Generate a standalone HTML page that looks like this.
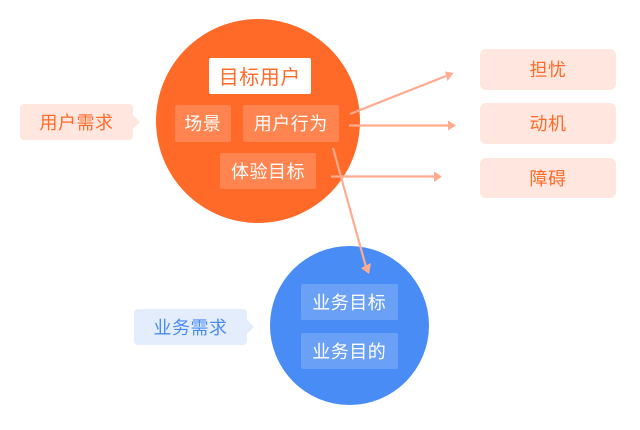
<!DOCTYPE html>
<html lang="zh">
<head>
<meta charset="utf-8">
<style>
html,body{margin:0;padding:0;background:#fff}
#c{position:relative;width:640px;height:430px;overflow:hidden;background:#fff;font-family:"Liberation Sans","Noto Sans CJK SC",sans-serif}
.b{position:absolute;display:flex;align-items:center;justify-content:center;font-size:18px;letter-spacing:.5px;white-space:nowrap;border-radius:2px;box-sizing:border-box}
.circle{position:absolute;border-radius:50%}
.o{background:#ffe7df;color:#ff6a29;border-radius:4px}
.w{background:rgba(255,255,255,.18);color:#fff}
svg{position:absolute;left:0;top:0}
</style>
</head>
<body>
<div id="c">
<div class="circle" style="left:156px;top:19px;width:204px;height:204px;background:#ff6a29"></div>
<div class="circle" style="left:270px;top:246px;width:159px;height:159px;background:#4a8cf5"></div>

<svg width="640" height="430" viewBox="0 0 640 430">
<polygon points="133,115 140,122 133,129" fill="#ffe7df"/>
<polygon points="247,320 254,327 247,334" fill="#e3edfc"/>
</svg>

<div class="b" style="left:208.5px;top:57.5px;width:102.5px;height:36.5px;background:#fff;color:#ff6a29;font-size:20px">目标用户</div>
<div class="b w" style="left:174.5px;top:105px;width:56.5px;height:36.5px">场景</div>
<div class="b w" style="left:242.5px;top:105px;width:96.5px;height:36.5px">用户行为</div>
<div class="b w" style="left:220px;top:153px;width:96px;height:36px">体验目标</div>
<div class="b o" style="left:20px;top:104px;width:113px;height:36px">用户需求</div>
<div class="b" style="left:134px;top:308.5px;width:113px;height:36.5px;background:#e3edfc;color:#4a8cf5;border-radius:4px">业务需求</div>
<div class="b w" style="left:300.5px;top:283.5px;width:97.5px;height:36.5px">业务目标</div>
<div class="b w" style="left:300.5px;top:332.5px;width:97.5px;height:36.5px">业务目的</div>
<div class="b o" style="left:480px;top:48.5px;width:136px;height:41px;border-radius:6px">担忧</div>
<div class="b o" style="left:480px;top:103px;width:136px;height:40.5px;border-radius:6px">动机</div>
<div class="b o" style="left:480px;top:157.5px;width:136px;height:40.5px;border-radius:6px">障碍</div>

<svg width="640" height="430" viewBox="0 0 640 430">
<g stroke="#ffab90" stroke-width="2.2" fill="none">
<line x1="350" y1="114" x2="446" y2="76"/>
<line x1="349" y1="125.5" x2="449" y2="125.5"/>
<line x1="331" y1="176.5" x2="435" y2="176.5"/>
<line x1="333" y1="148" x2="366" y2="267"/>
</g>
<g fill="#ffab90">
<polygon points="453.5,73 445,71.5 447.5,81"/>
<polygon points="456,125.5 448,120.5 448,130.5"/>
<polygon points="442,176.5 434,171.5 434,182"/>
<polygon points="369,274 361,268 371,263"/>
</g>
</svg>
</div>
</body>
</html>
